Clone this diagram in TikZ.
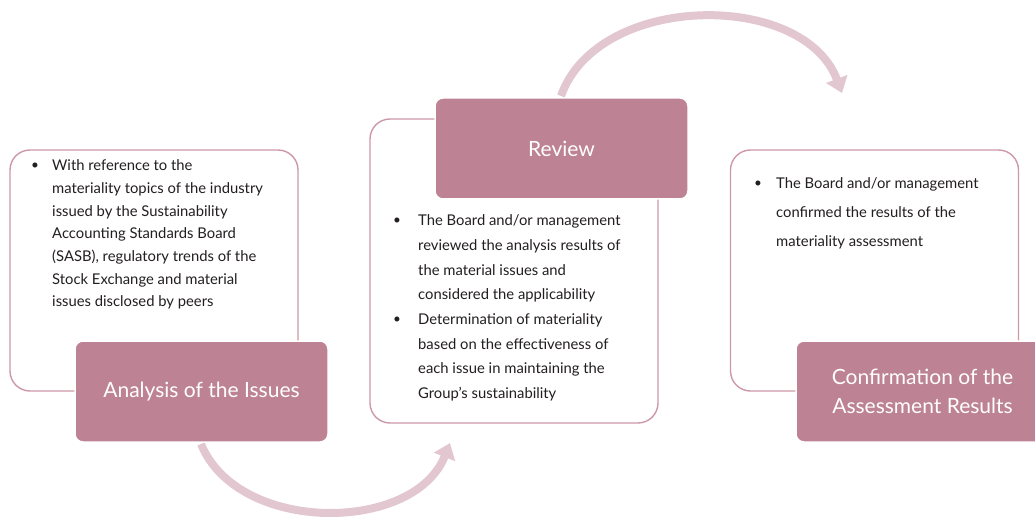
\documentclass[tikz,border=0pt]{standalone}
\usepackage{fontspec}
\setmainfont{Lato}
\usetikzlibrary{calc,positioning,arrows.meta}
\usepackage{xcolor}

\definecolor{tagfill}{HTML}{BD8394}
\definecolor{panelline}{HTML}{CD98A7}
\definecolor{looppink}{HTML}{E2C6D0}
\definecolor{bodytext}{HTML}{231F20}

\tikzset{
  panel/.style={draw=panelline, line width=1.4pt, fill=white, rounded corners=20pt,
                minimum width=288pt, inner sep=0pt},
  tag/.style={fill=tagfill, draw=white, line width=1.5pt, rounded corners=8pt,
              minimum width=253pt, minimum height=101pt, inner sep=0pt,
              text=white, align=center, font=\fontsize{21}{29}\selectfont},
  loop/.style={draw=looppink, line width=8pt, -{Triangle[width=22pt,length=15pt]}},
  dot/.style={inner sep=0pt, text=bodytext, font=\fontsize{13.5}{16}\selectfont},
  body/.style={anchor=north west, inner sep=0pt, align=left, text=bodytext},
}

\begin{document}
\begin{tikzpicture}[x=1pt,y=1pt]

    \path[use as bounding box, clip] (0,0) rectangle (1035,520);

% curved arrows between the steps
\coordinate (s1) at (201,76);
\coordinate (e1) at (450,77);
\coordinate (s2) at (561,424);
\coordinate (e2) at (842,427);
\draw[loop] (s1) to[bend right=68] (e1);
\draw[loop] (s2) to[bend left=70] (e2);

% white panels
\node[panel, minimum height=241pt] (box1) at (154,249.5) {};
\node[panel, minimum height=304pt] (box2) at (514,249) {};
\node[panel, minimum height=241pt] (box3) at (874.5,249.5) {};

% step labels
\node[tag] (tag1) at (201.5,128.5) {Analysis of the Issues};
\node[tag] (tag2) at (561.5,371.5) {Review};
\node[tag] (tag3) at (922.5,128.5) {Confirmation of the\\Assessment Results};

% bullet texts
\node[dot] (b1) at (35,354) {\textbullet};
\node[body, font=\fontsize{14.8}{22.7}\selectfont] (t1) at (52,360.5) {With reference to the\\
materiality topics of the industry\\
issued by the Sustainability\\
Accounting Standards Board\\
(SASB), regulatory trends of the\\
Stock Exchange and material\\
issues disclosed by peers};

\node[dot] (b2) at (397,299) {\textbullet};
\node[dot] (b3) at (397,200) {\textbullet};
\node[body, font=\fontsize{14.8}{24.7}\selectfont] (t2) at (418,305.5) {The Board and/or management\\
reviewed the analysis results of\\
the material issues and\\
considered the applicability\\
Determination of materiality\\
based on the effectiveness of\\
each issue in maintaining the\\
Group’s sustainability};

\node[dot] (b4) at (758,336) {\textbullet};
\node[body, font=\fontsize{14.8}{29}\selectfont] (t3) at (776,342.5) {The Board and/or management\\
confirmed the results of the\\
materiality assessment};

\end{tikzpicture}
\end{document}
